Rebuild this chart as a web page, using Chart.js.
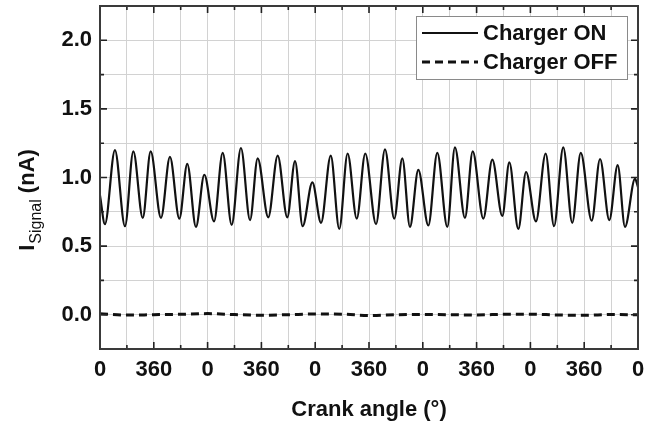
<!DOCTYPE html>
<html>
<head>
<meta charset="utf-8">
<script src="https://cdn.jsdelivr.net/npm/chart.js@4.4.1/dist/chart.umd.min.js"></script>
<style>
html,body{margin:0;padding:0;background:#fff;}
#wrap{width:657px;height:421px;}
</style>
</head>
<body>
<div id="wrap"><canvas id="sigChart" width="657" height="421"></canvas></div>
<script>
// crank angle (deg, 5 cycles of 720) at the peaks / troughs
const onAngle=[0,33,100,167,223,286,339,408,468,531,584,642,698,763,821,881,943,1004,1055,1126,
  1189,1253,1305,1356,1421,1479,1544,1601,1657,1718,1775,1847,1907,1969,2023,2074,2130,2197,2257,2324,
  2375,2442,2494,2565,2625,2692,2739,2799,2851,2917,2982,3038,3100,3160,3217,3290,3346,3408,3464,3513,3580,3600];
const onSignal=[0.87,0.66,1.20,0.645,1.19,0.705,1.19,0.705,1.15,0.70,1.10,0.64,1.02,0.68,1.18,0.655,1.215,0.69,1.14,0.71,
  1.16,0.71,1.12,0.645,0.965,0.67,1.16,0.625,1.175,0.70,1.175,0.66,1.205,0.70,1.14,0.64,1.055,0.65,1.18,0.64,
  1.22,0.705,1.19,0.70,1.13,0.72,1.11,0.625,1.04,0.68,1.175,0.645,1.22,0.67,1.18,0.685,1.135,0.69,1.09,0.64,0.99,0.93];
const offAngle=[0,180,360,540,720,900,1080,1260,1440,1620,1800,1980,2160,2340,2520,2700,2880,3060,3240,3420,3600];
const offSignal=[0.007,-0.003,0.0,0.003,0.008,0.001,-0.004,0.0,0.005,0.004,-0.006,0.0,0.002,0.0,-0.002,0.003,0.004,-0.002,-0.004,0.001,0.0];
const xTickLabels=['0','360','0','360','0','360','0','360','0','360','0'];
const yTickLabels=['0.0','0.5','1.0','1.5','2.0'];

const FONT='"Liberation Sans", Arial, sans-serif';

function xLabel(v){return v%360===0 ? xTickLabels[v/360] : '';}
function yLabel(v){
  const k=Math.round(v*2);
  if(Math.abs(v*2-k)>1e-6||k<0) return '';
  return yTickLabels[k]||'';
}

// frame + inward ticks on all four sides
const frameTicks={
  id:'frameTicks',
  afterDatasetsDraw(chart){
    const {ctx,chartArea:a,scales:{x,y}}=chart;
    ctx.save();
    ctx.strokeStyle='#222';ctx.lineWidth=1.6;
    ctx.beginPath();
    x.ticks.forEach(t=>{const px=x.getPixelForValue(t.value);const len=xLabel(t.value)?7:4;
      ctx.moveTo(px,a.bottom);ctx.lineTo(px,a.bottom-len);ctx.moveTo(px,a.top);ctx.lineTo(px,a.top+len);});
    y.ticks.forEach(t=>{const py=y.getPixelForValue(t.value);const len=yLabel(t.value)?7:4;
      ctx.moveTo(a.left,py);ctx.lineTo(a.left+len,py);ctx.moveTo(a.right,py);ctx.lineTo(a.right-len,py);});
    ctx.stroke();
    ctx.strokeStyle='#3a3a3a';ctx.lineWidth=2;
    ctx.strokeRect(a.left,a.top,a.right-a.left,a.bottom-a.top);
    ctx.restore();
  }
};

// boxed legend in the upper right corner
const boxLegend={
  id:'boxLegend',
  afterDraw(chart){
    const ctx=chart.ctx;
    ctx.save();
    ctx.fillStyle='#fff';ctx.fillRect(416,16,212,64);
    ctx.strokeStyle='#8a8a8a';ctx.lineWidth=1;ctx.strokeRect(416.5,16.5,211,63);
    ctx.font='bold 22px '+FONT;ctx.textBaseline='middle';ctx.fillStyle='#111';
    chart.data.datasets.forEach((ds,i)=>{
      const yy=33+i*29;
      ctx.beginPath();ctx.setLineDash(ds.borderDash||[]);
      ctx.lineWidth=ds.borderWidth;ctx.strokeStyle=ds.borderColor;
      ctx.moveTo(422,yy);ctx.lineTo(478,yy);ctx.stroke();
      ctx.fillText(ds.label,483,yy+1);
    });
    ctx.restore();
  }
};

// y title with subscript: I_Signal (nA)
const yTitle={
  id:'yTitle',
  afterDraw(chart){
    const ctx=chart.ctx;
    const big='bold 22px '+FONT,small='16px '+FONT;
    ctx.save();
    ctx.font=big;const w1=ctx.measureText('I').width,w3=ctx.measureText(' (nA)').width;
    ctx.font=small;const w2=ctx.measureText('Signal').width;
    const total=w1+w2+w3+1;
    ctx.translate(34,200);ctx.rotate(-Math.PI/2);
    ctx.fillStyle='#111';ctx.textBaseline='alphabetic';
    let u=-total/2;
    ctx.font=big;ctx.fillText('I',u,0);u+=w1+1;
    ctx.font=small;ctx.fillText('Signal',u,7);u+=w2;
    ctx.font=big;ctx.fillText(' (nA)',u,0);
    ctx.restore();
  }
};

new Chart(document.getElementById('sigChart').getContext('2d'),{
  type:'line',
  data:{
    datasets:[
      {label:'Charger ON',data:onAngle.map((a,i)=>({x:a,y:onSignal[i]})),
        borderColor:'#111',borderWidth:2.2,pointRadius:0,cubicInterpolationMode:'monotone',fill:false},
      {label:'Charger OFF',data:offAngle.map((a,i)=>({x:a,y:offSignal[i]})),
        borderColor:'#111',borderWidth:3,borderDash:[8,5],pointRadius:0,cubicInterpolationMode:'monotone',fill:false}
    ]
  },
  options:{
    responsive:false,animation:false,devicePixelRatio:1,
    layout:{padding:{left:0,right:19,top:6,bottom:0}},
    plugins:{legend:{display:false},tooltip:{enabled:false}},
    scales:{
      x:{type:'linear',min:0,max:3600,
        afterFit(s){s.height=72;s.paddingLeft=0;s.paddingRight=0;},
        grid:{color:'#d2d2d2',lineWidth:1,drawTicks:false},
        border:{display:false},
        ticks:{stepSize:180,autoSkip:false,maxRotation:0,padding:8,color:'#111',
          font:{family:FONT,size:22,weight:'bold'},callback:v=>xLabel(v)},
        title:{display:true,text:'Crank angle (°)',color:'#111',padding:{top:0,bottom:0},
          font:{family:FONT,size:22,weight:'bold',lineHeight:1}}
      },
      y:{min:-0.25,max:2.25,
        afterFit(s){s.width=100;s.paddingTop=0;s.paddingBottom=0;},
        grid:{color:'#d2d2d2',lineWidth:1,drawTicks:false},
        border:{display:false},
        ticks:{stepSize:0.25,autoSkip:false,padding:8,color:'#111',
          font:{family:FONT,size:22,weight:'bold'},callback:v=>yLabel(v)}
      }
    }
  },
  plugins:[frameTicks,boxLegend,yTitle]
});
</script>
</body>
</html>
